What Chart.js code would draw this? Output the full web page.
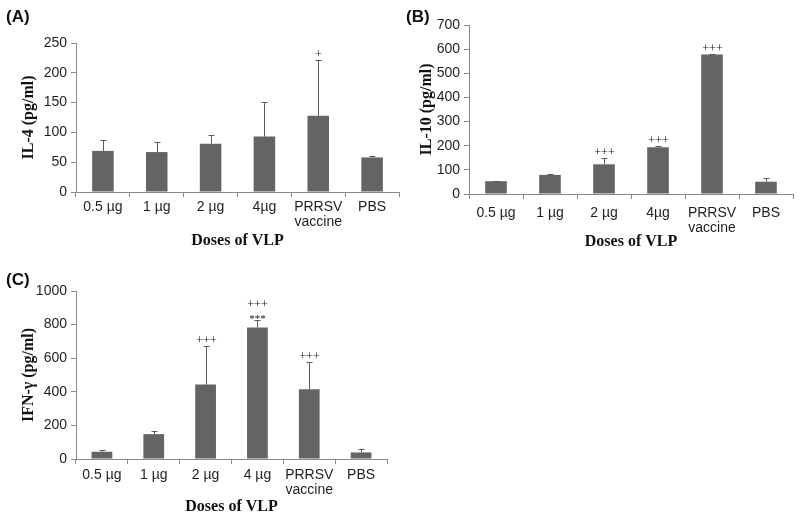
<!DOCTYPE html>
<html><head><meta charset="utf-8">
<script src="https://cdn.jsdelivr.net/npm/chart.js@4/dist/chart.umd.min.js"></script>
<style>
html,body{margin:0;padding:0;background:#fff;width:800px;height:519px;overflow:hidden}
.p{position:absolute}
canvas{display:block}
</style></head><body>
<div class="p" style="left:0;top:0"><canvas id="cA" width="400" height="260"></canvas></div>
<div class="p" style="left:400px;top:0"><canvas id="cB" width="400" height="260"></canvas></div>
<div class="p" style="left:0;top:260px"><canvas id="cC" width="400" height="259"></canvas></div>
<script>
// ---- data ----
const categoriesAB = ['0.5 µg', '1 µg', '2 µg', '4µg', ['PRRSV', 'vaccine'], 'PBS'];
const categoriesC  = ['0.5 µg', '1 µg', '2 µg', '4 µg', ['PRRSV', 'vaccine'], 'PBS'];

const il4Mean  = [69, 67, 81, 93, 128, 58];
const il4Upper = [88, 84, 95, 151, 222, 61];
const il4Sig   = [[], [], [], [], ['+'], []];

const il10Mean  = [53, 79, 123, 194, 578, 51];
const il10Upper = [55, 83, 149, 198, 581, 65];
const il10Sig   = [[], [], ['+++'], ['+++'], ['+++'], []];

const ifnMean  = [43, 148, 443, 783, 415, 39];
const ifnUpper = [53, 166, 674, 825, 576, 57];
const ifnSig   = [[], [], ['+++'], ['+++', '***'], ['+++'], []];

const yTicksA = {max: 250, step: 50};
const yTicksB = {max: 700, step: 100};
const yTicksC = {max: 1000, step: 200};

// ---- styling / helpers ----
const BAR = '#646464';
const AXIS = '#8a8a8a';
const TXT = '#1e1e1e';
const SANS = '"Liberation Sans", Arial, sans-serif';
const SERIF = '"Liberation Serif", "Times New Roman", serif';

function decor(upper, sig, label, labelY) {
  return {
    id: 'decor',
    afterDatasetsDraw(chart) {
      const ctx = chart.ctx;
      const y = chart.scales.y;
      const meta = chart.getDatasetMeta(0);
      ctx.save();
      ctx.strokeStyle = '#5a5a5a';
      ctx.lineWidth = 1;
      meta.data.forEach((bar, i) => {
        const x = Math.round(bar.x) + 0.5;
        const yt = Math.round(y.getPixelForValue(upper[i])) + 0.5;
        ctx.beginPath();
        ctx.moveTo(x, bar.y);
        ctx.lineTo(x, yt);
        ctx.moveTo(x - 3, yt);
        ctx.lineTo(x + 3, yt);
        ctx.stroke();
        const lines = sig[i];
        ctx.fillStyle = '#111';
        ctx.textAlign = 'center';
        ctx.textBaseline = 'alphabetic';
        let base = yt - 3;
        for (let k = lines.length - 1; k >= 0; k--) {
          const t = lines[k];
          if (t.indexOf('*') >= 0) {
            ctx.font = '11px ' + SERIF;
            ctx.fillText(t, x, base + 4);
          } else {
            ctx.font = '12px ' + SERIF;
            ctx.fillText(t, x, base);
          }
          base -= 10;
        }
      });
      ctx.fillStyle = '#111';
      ctx.textAlign = 'left';
      ctx.textBaseline = 'middle';
      ctx.font = 'bold 17px ' + SANS;
      ctx.fillText(label, 6, labelY);
      ctx.restore();
    }
  };
}

function makeChart(id, cats, mean, upper, sig, yt, cfg) {
  return new Chart(document.getElementById(id), {
    type: 'bar',
    data: {
      labels: cats,
      datasets: [{
        data: mean,
        backgroundColor: BAR,
        borderWidth: 0,
        categoryPercentage: 0.8,
        barPercentage: 0.5
      }]
    },
    options: {
      responsive: false,
      animation: false,
      devicePixelRatio: 1,
      layout: {padding: {left: 0, top: cfg.top, right: cfg.right, bottom: 0}},
      plugins: {legend: {display: false}, tooltip: {enabled: false}},
      scales: {
        x: {
          grid: {drawOnChartArea: false, drawTicks: true, tickLength: 5, color: AXIS, offset: true},
          border: {color: AXIS, width: 1},
          ticks: {color: TXT, font: {family: SANS, size: 14, lineHeight: 1.1}, padding: cfg.xPad, maxRotation: 0, autoSkip: false},
          title: {display: true, text: 'Doses of VLP', color: '#111',
                  font: {family: SERIF, size: 16, weight: 'bold'}, padding: {top: 0, bottom: cfg.xTitlePad}},
          afterFit(s) { s.height = cfg.xH; }
        },
        y: {
          min: 0, max: yt.max,
          grid: {drawOnChartArea: false, drawTicks: true, tickLength: 5, color: AXIS},
          border: {color: AXIS, width: 1},
          ticks: {stepSize: yt.step, color: TXT, font: {family: SANS, size: 14}, padding: 4,
                  callback: (v) => String(v)},
          title: {display: true, text: cfg.yTitle, color: '#111',
                  font: {family: SERIF, size: 16, weight: 'bold'}, padding: {top: cfg.yTitlePad, bottom: 0}},
          afterFit(s) { s.width = cfg.yW; }
        }
      }
    },
    plugins: [decor(upper, sig, cfg.label, cfg.labelY)]
  });
}

makeChart('cA', categoriesAB, il4Mean, il4Upper, il4Sig, yTicksA,
  {top: 43, right: 1, xH: 68, yW: 76, xPad: 2, xTitlePad: 10, yTitle: 'IL-4 (pg/ml)', yTitlePad: 19, label: '(A)', labelY: 17});
makeChart('cB', categoriesAB, il10Mean, il10Upper, il10Sig, yTicksB,
  {top: 25, right: 7, xH: 66, yW: 69, xPad: 6, xTitlePad: 9, yTitle: 'IL-10 (pg/ml)', yTitlePad: 17, label: '(B)', labelY: 17});
makeChart('cC', categoriesC, ifnMean, ifnUpper, ifnSig, yTicksC,
  {top: 31, right: 13, xH: 60, yW: 76, xPad: 3, xTitlePad: 3, yTitle: 'IFN-γ (pg/ml)', yTitlePad: 19, label: '(C)', labelY: 20});
</script>
</body></html>
